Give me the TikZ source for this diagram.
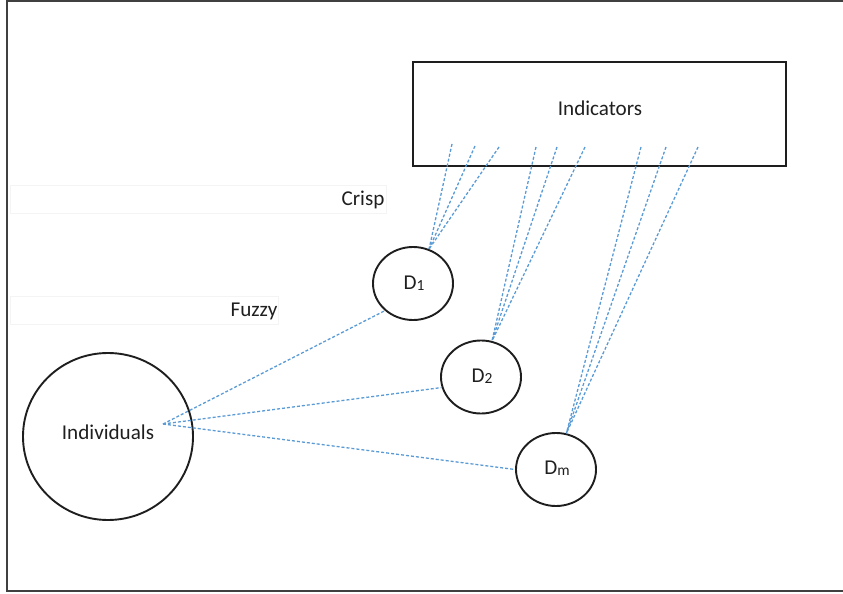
\documentclass[tikz,border=0pt]{standalone}
\usepackage{fontspec}
\setmainfont{Carlito}
\usetikzlibrary{shapes.geometric}
\definecolor{lineblue}{RGB}{91,155,213}
\definecolor{strokegray}{RGB}{30,30,30}
\definecolor{faintgray}{RGB}{244,244,244}
\newcommand{\dsub}[1]{\raisebox{-1.3bp}{\fontsize{15.5}{16}\selectfont #1}}
\begin{document}
\begin{tikzpicture}[x=1bp,y=-1bp,
  every node/.style={font=\fontsize{21.2}{24}\selectfont, text=black!88},
  dnode/.style={ellipse, draw=strokegray, line width=1.9bp, minimum width=80bp, minimum height=73bp, inner sep=0pt},
  bignode/.style={ellipse, draw=strokegray, line width=1.9bp, minimum width=170bp, minimum height=167bp, inner sep=0pt},
  boxnode/.style={rectangle, draw=strokegray, line width=1.9bp, minimum width=373bp, minimum height=104bp, inner sep=0pt},
  link/.style={draw=lineblue, dashed, dash pattern=on 3bp off 2bp, line width=1.3bp},
  frameline/.style={draw=black!75, line width=2bp},
  ghost/.style={rectangle, draw=faintgray, line width=0.6bp, inner sep=0pt}
]
\useasboundingbox (0,0) rectangle (843,594);
% outer frame
\draw[frameline] (843,1) -- (7,1) -- (7,591) -- (843,591);

% faint text boxes
\node[ghost, minimum width=376bp, minimum height=28bp] (crispbox) at (198,199) {};
\node (crisp) at (363,200) {Crisp};
\node[ghost, minimum width=268bp, minimum height=28bp] (fuzzybox) at (144,310) {};
\node (fuzzy) at (254,311) {Fuzzy};

% indicators box
\node[boxnode] (ind) at (599.5,114) {};
\node (indtext) at (600,108) {Indicators};

% dimension nodes
\node[dnode] (D1) at (413,283.5) {};
\node (D1t) at (414,283) {D\dsub{1}};
\node[dnode] (D2) at (481,377) {};
\node (D2t) at (482,376) {D\dsub{2}};
\node[dnode] (Dm) at (556,469.5) {};
\node (Dmt) at (557,468) {D\dsub{m}};

% individuals
\node[bignode] (indiv) at (108,436.5) {};
\node (indivt) at (108,432) {Individuals};

% line origins inside the indicators box
\coordinate (a1) at (452,144);
\coordinate (a2) at (475,146);
\coordinate (a3) at (499,147);
\coordinate (b1) at (536,147);
\coordinate (b2) at (557,147);
\coordinate (b3) at (585,147);
\coordinate (c1) at (641,147);
\coordinate (c2) at (666,147);
\coordinate (c3) at (698,147);
\coordinate (hub) at (163,424);

% crisp links
\draw[link] (a1) -- (D1.65);
\draw[link] (a2) -- (D1.65);
\draw[link] (a3) -- (D1.65);
\draw[link] (b1) -- (D2.73);
\draw[link] (b2) -- (D2.73);
\draw[link] (b3) -- (D2.73);
\draw[link] (c1) -- (Dm.74);
\draw[link] (c2) -- (Dm.74);
\draw[link] (c3) -- (Dm.74);

% fuzzy links
\draw[link] (hub) -- (D1.224);
\draw[link] (hub) -- (D2.195);
\draw[link] (hub) -- (Dm.180);
\end{tikzpicture}
\end{document}
